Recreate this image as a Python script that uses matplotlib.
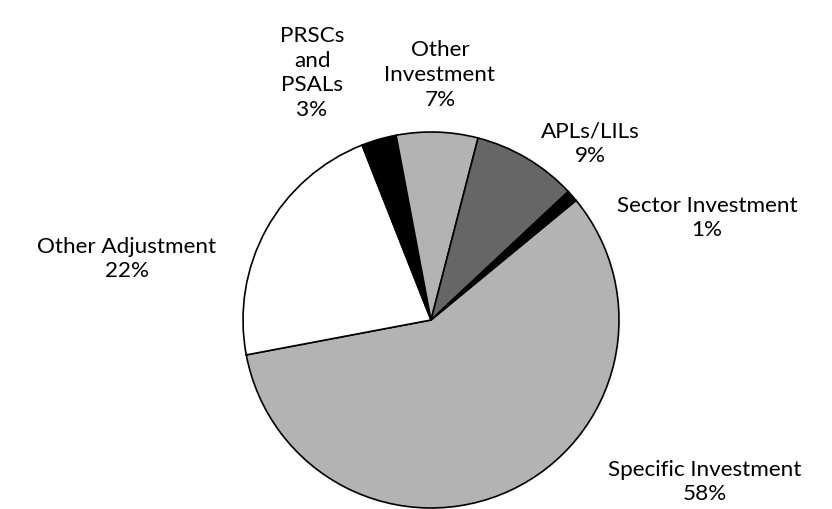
import matplotlib.pyplot as plt

labels = ["Specific Investment", "Other Adjustment", "PRSCs\nand\nPSALs",
          "Other\nInvestment", "APLs/LILs", "Sector Investment"]
values = [58, 22, 3, 7, 9, 1]
colors = ["#b3b3b3", "#ffffff", "#000000", "#b3b3b3", "#666666", "#000000"]

# label centres in pixel coords (x, y from top)
label_pos = [(705, 482), (127, 259), (312, 73), (440, 75), (590, 144), (707, 218)]

plt.rcParams['font.family'] = ['Lato', 'DejaVu Sans']

W, H = 832, 510
fig = plt.figure(figsize=(W / 100, H / 100), dpi=100)
ax = fig.add_axes([0, 0, 1, 1])
ax.set_xlim(0, W)
ax.set_ylim(0, H)
ax.set_aspect('equal')
ax.axis('off')

ax.pie(values, colors=colors, startangle=39.5, counterclock=False,
       center=(431, H - 321), radius=188,
       wedgeprops=dict(edgecolor='black', linewidth=1.2))

for lab, v, (x, y) in zip(labels, values, label_pos):
    ax.text(x, H - y, f"{lab}\n{v}%", ha='center', va='center',
            fontsize=16.2, linespacing=1.3, color='black')

ax.set_xlim(0, W)
ax.set_ylim(0, H)
fig.savefig("out.png", dpi=100)
